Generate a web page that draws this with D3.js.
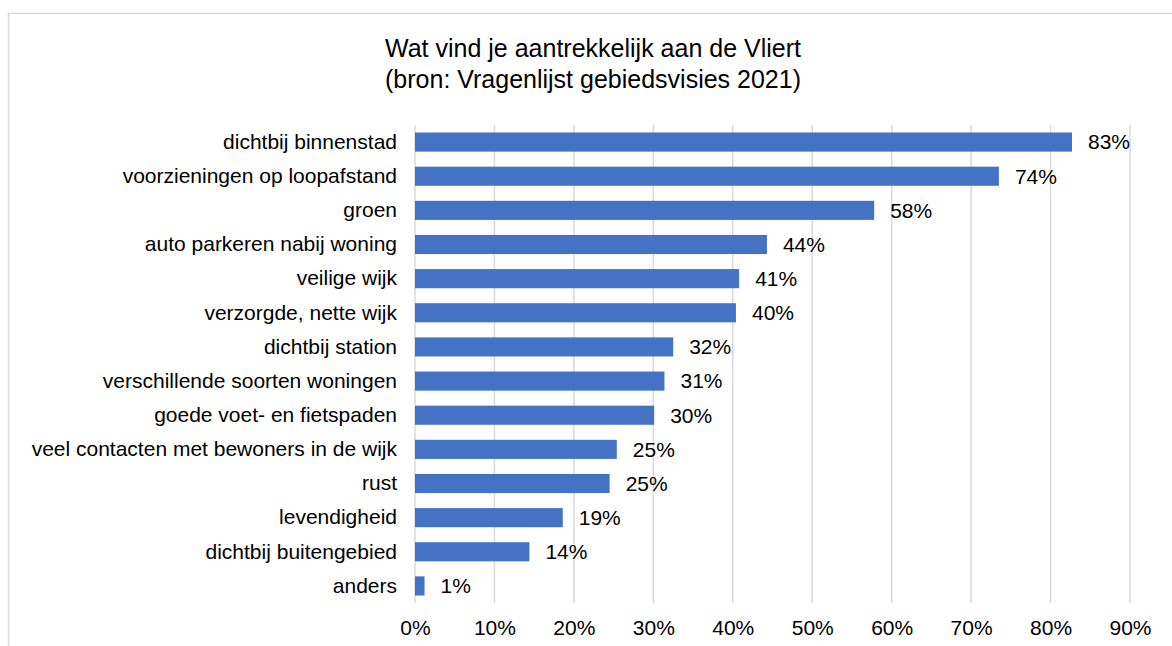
<!DOCTYPE html>
<html>
<head>
<meta charset="utf-8">
<script src="https://cdn.jsdelivr.net/npm/d3@7"></script>
<style>
  body { margin: 0; background: #fff; }
  text { font-family: "Liberation Sans", Arial, sans-serif; fill: #000; }
</style>
</head>
<body>
<div class="chart"></div>
<script>
// data
const categories = [
    "dichtbij binnenstad",
    "voorzieningen op loopafstand",
    "groen",
    "auto parkeren nabij woning",
    "veilige wijk",
    "verzorgde, nette wijk",
    "dichtbij station",
    "verschillende soorten woningen",
    "goede voet- en fietspaden",
    "veel contacten met bewoners in de wijk",
    "rust",
    "levendigheid",
    "dichtbij buitengebied",
    "anders"
]
const values = [82.7, 73.5, 57.8, 44.3, 40.8, 40.4, 32.5, 31.4, 30.1, 25.4, 24.5, 18.6, 14.4, 1.2]
const valueLabels = ["83%", "74%", "58%", "44%", "41%", "40%", "32%", "31%", "30%", "25%", "25%", "19%", "14%", "1%"]
const xTicks = [0, 10, 20, 30, 40, 50, 60, 70, 80, 90]
const titleLines = ["Wat vind je aantrekkelijk aan de Vliert", "(bron: Vragenlijst gebiedsvisies 2021)"]

const W = 1172, H = 646
const margin = { top: 125, right: 42, bottom: 43, left: 415 }
const width = W - margin.left - margin.right,
    height = H - margin.top - margin.bottom

let svg = d3.select(".chart").append("svg")
    .attr("width", W)
    .attr("height", H)

// chart area border
svg.append("rect")
    .attr("x", 8.5).attr("y", 13.5)
    .attr("width", W + 20).attr("height", H + 20)
    .attr("fill", "none")
    .attr("stroke", "#d9d9d9")
    .attr("stroke-width", 1.5)

svg.append("text")
    .attr("text-anchor", "middle")
    .attr("x", 593)
    .attr("y", 57)
    .style("font-size", "25px")
    .selectAll("tspan")
    .data(titleLines)
    .join("tspan")
    .attr("x", 593)
    .attr("dy", (d, i) => i ? 31 : 0)
    .text(d => d)

let g = svg.append("g")
    .attr("transform", `translate(${margin.left},${margin.top})`)

let xScale = d3.scaleLinear()
    .domain([0, 90])
    .range([0, width])

let yScale = d3.scaleBand()
    .domain(categories)
    .range([0, height])
    .paddingInner(0.44)
    .paddingOuter(0.22)

// gridlines
g.append("g")
    .selectAll("line")
    .data(xTicks)
    .join("line")
    .attr("x1", d => xScale(d)).attr("x2", d => xScale(d))
    .attr("y1", 0).attr("y2", height)
    .attr("stroke", "#d9d9d9")
    .attr("stroke-width", 1.5)

let xAxis = d3.axisBottom(xScale)
    .tickValues(xTicks)
    .tickFormat(d => d + "%")
    .tickSize(0)
    .tickPadding(17)

g.append("g")
    .attr("class", "x-axis")
    .attr("transform", `translate(0,${height})`)
    .call(xAxis)
    .call(a => a.select(".domain").remove())
    .selectAll("text")
    .style("font-size", "21px")
    .style("font-family", "Liberation Sans, Arial, sans-serif")

let yAxis = d3.axisLeft(yScale)
    .tickSize(0)
    .tickPadding(18)

g.append("g")
    .attr("class", "y-axis")
    .call(yAxis)
    .call(a => a.select(".domain").remove())
    .selectAll("text")
    .style("font-size", "21px")
    .style("font-family", "Liberation Sans, Arial, sans-serif")

// bars
g.selectAll(".bar")
    .data(values)
    .join("rect")
    .attr("class", "bar")
    .attr("x", xScale(0))
    .attr("y", (d, i) => yScale(categories[i]))
    .attr("width", d => xScale(d) - xScale(0))
    .attr("height", yScale.bandwidth())
    .attr("fill", "#4472c4")

// value labels
g.selectAll(".lbl")
    .data(values)
    .join("text")
    .attr("class", "lbl")
    .attr("x", d => xScale(d) + 16)
    .attr("y", (d, i) => yScale(categories[i]) + yScale.bandwidth() / 2)
    .attr("dy", "0.35em")
    .style("font-size", "21px")
    .text((d, i) => valueLabels[i])
</script>
</body>
</html>
